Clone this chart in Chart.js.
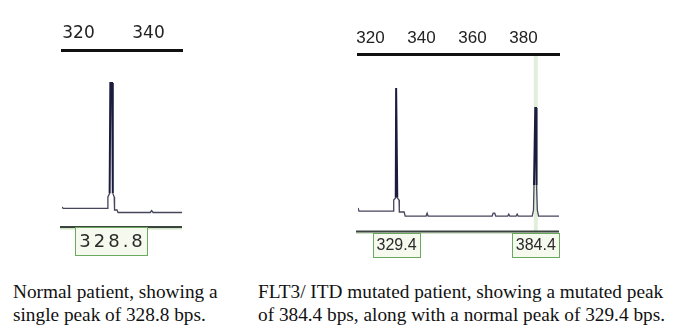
<!DOCTYPE html>
<html><head><meta charset="utf-8">
<script src="https://cdn.jsdelivr.net/npm/chart.js@4.4.1/dist/chart.umd.min.js"></script>
<style>
html,body{margin:0;padding:0;background:#fff;width:678px;height:327px;overflow:hidden;}
.wrap{position:absolute;}
.cap{position:absolute;font-family:"Liberation Serif","Times New Roman",serif;font-size:19.3px;line-height:23px;color:#111;white-space:nowrap;}
</style></head><body>
<div class="wrap" style="left:40px;top:0;width:170px;height:262px"><canvas id="c1" width="170" height="262"></canvas></div>
<div class="wrap" style="left:340px;top:0;width:240px;height:262px"><canvas id="c2" width="240" height="262"></canvas></div>
<div class="cap" style="left:13px;top:280px">Normal patient, showing a<br>single peak of 328.8 bps.</div>
<div class="cap" style="left:258px;top:280px">FLT3/ ITD mutated patient, showing a mutated peak<br>of 384.4 bps, along with a normal peak of 329.4 bps.</div>
<script>
// ---- Data: left panel (normal patient) ----
const leftTicks = [320, 340];
const leftRange = [315.29, 349.57];
const leftX = [315.29, 315.6, 328.3, 328.4, 328.9, 329.1, 329.6, 329.8, 330.2, 330.3, 331.0, 331.3, 340.5, 340.9, 341.3, 349.57];
const leftY = [11.3, 10.5, 10.5, 17, 19, 81.4, 81.4, 19, 17, 9.6, 9.6, 8.2, 8.2, 9.3, 8.2, 8.2];
const leftPeakPos = [329.3];
const leftPeakLabels = ['328.8'];

// ---- Data: right panel (FLT3/ITD mutated patient) ----
const rightTicks = [320, 340, 360, 380];
const rightRange = [315.1, 393.9];
const rightX = [315.1, 315.5, 329.0, 329.1, 329.9, 330.05, 330.35, 330.5, 331.2, 331.3, 333.2, 333.6, 341.8, 342.2, 342.6, 367.7, 368.1, 368.7, 369.1, 373.8, 374.2, 374.6, 377.1, 377.5, 377.9, 383.4, 383.9, 384.1, 384.6, 384.9, 385.1, 385.4, 385.9, 393.9];
const rightY = [13.2, 11.5, 11.5, 17.7, 19, 80.8, 80.8, 19, 17.7, 11, 11, 8.7, 8.7, 10.3, 8.7, 8.7, 10.3, 10.3, 8.7, 8.7, 9.8, 8.7, 8.7, 9.8, 8.7, 8.7, 12, 26.2, 69.6, 69.6, 26.2, 12, 8.7, 8.7];
const rightPeakPos = [330.2, 384.8];
const rightPeakLabels = ['329.4', '384.4'];
const rightMarkers = [384.8];

const boxPlugin = {
  id: 'peakBoxes',
  beforeDatasetsDraw(chart, args, o) {
    const {ctx, chartArea: a, scales: {x}} = chart;
    (o.markers || []).forEach(v => {
      const px = x.getPixelForValue(v);
      ctx.save();
      ctx.strokeStyle = 'rgba(214,232,206,0.75)';
      ctx.lineWidth = 4;
      ctx.beginPath(); ctx.moveTo(px, a.top + 2); ctx.lineTo(px, a.bottom + 2); ctx.stroke();
      ctx.restore();
    });
  },
  afterDraw(chart, args, o) {
    const {ctx, chartArea: a, scales: {x}} = chart;
    ctx.save();
    ctx.fillStyle = '#cfe5c6';
    ctx.fillRect(a.left - 2, a.bottom + 1, a.right - a.left + 2, 1.5);
    ctx.fillStyle = '#3d4440';
    ctx.fillRect(a.left - 2, a.bottom - 1, a.right - a.left + 2, 2);
    o.peaks.forEach((v, i) => {
      const px = x.getPixelForValue(v);
      const l = Math.round(px - o.halfW), w = Math.round(o.halfW * 2);
      const t = Math.round(a.bottom + o.top), h = o.h;
      ctx.fillStyle = '#f6f9ee';
      ctx.fillRect(l, t, w, h);
      ctx.strokeStyle = '#6aaa5e'; ctx.lineWidth = 1;
      ctx.strokeRect(l + 0.5, t + 0.5, w, h);
      ctx.fillStyle = '#2a2a2a';
      ctx.font = o.font;
      ctx.textAlign = 'center'; ctx.textBaseline = 'middle';
      if ('letterSpacing' in ctx) ctx.letterSpacing = o.ls + 'px';
      ctx.fillText(o.labels[i], px + o.ls / 2, t + h / 2 + 1);
      if ('letterSpacing' in ctx) ctx.letterSpacing = '0px';
    });
    ctx.restore();
  }
};

function makeChart(id, xs, ys, range, ticks, tickFont, tickPad, axisH, pad, boxOpts) {
  const pts = xs.map((v, i) => ({x: v, y: ys[i]}));
  return new Chart(document.getElementById(id), {
    type: 'line',
    data: {datasets: [{
      data: pts,
      borderColor: '#45455c',
      borderWidth: 1.3,
      pointRadius: 0,
      tension: 0,
      segment: {
        borderColor: c => (c.p0.parsed.y > 30 || c.p1.parsed.y > 30) ? '#1c1c3e' : '#45455c',
        borderWidth: c => (c.p0.parsed.y > 30 || c.p1.parsed.y > 30) ? 2 : 1.3
      }
    }]},
    options: {
      responsive: false,
      animation: false,
      layout: {padding: pad},
      plugins: {legend: {display: false}, tooltip: {enabled: false}, peakBoxes: boxOpts},
      scales: {
        x: {
          type: 'linear', position: 'top', min: range[0], max: range[1],
          afterBuildTicks: s => { s.ticks = ticks.map(v => ({value: v})); },
          afterFit: s => { s.height = axisH; },
          grid: {display: false, drawTicks: false},
          border: {display: true, color: '#111', width: 3},
          ticks: {color: '#222', font: tickFont, padding: tickPad, maxRotation: 0, autoSkip: false, callback: v => String(v)}
        },
        y: {display: false, min: 0, max: 100}
      }
    },
    plugins: [boxPlugin]
  });
}

makeChart('c1', leftX, leftY, leftRange, leftTicks,
  {family: 'DejaVu Sans', size: 17}, 6, 50,
  {left: 22, right: 28, top: 0, bottom: 35},
  {peaks: leftPeakPos, labels: leftPeakLabels, halfW: 36, top: 0, h: 28, font: '18px "DejaVu Sans"', ls: 3});

makeChart('c2', rightX, rightY, rightRange, rightTicks,
  {family: 'Liberation Sans', size: 17}, 5, 54,
  {left: 18, right: 21, top: 0, bottom: 30.5},
  {peaks: rightPeakPos, labels: rightPeakLabels, halfW: 23.5, top: 1.5, h: 24, font: '16px "Liberation Sans"', ls: 0, markers: rightMarkers});
</script>
</body></html>
